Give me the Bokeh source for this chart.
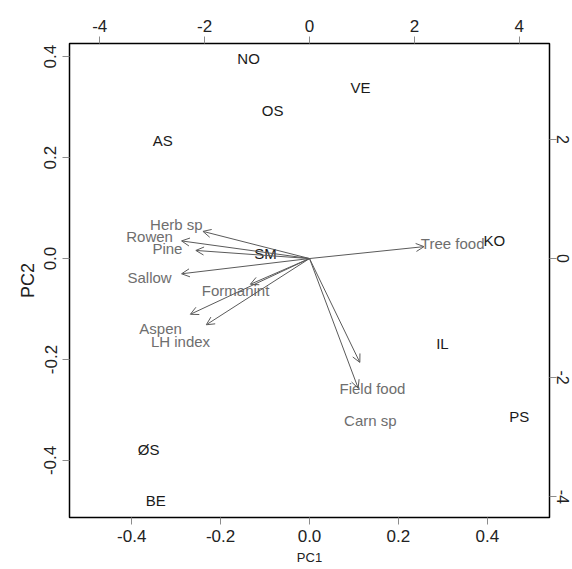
from bokeh.plotting import figure
from bokeh.models import (Range1d, LinearAxis, FixedTicker, PrintfTickFormatter,
                          ColumnDataSource, Arrow, OpenHead)
from bokeh.core.properties import value
from bokeh.embed import file_html
from bokeh.resources import INLINE

# ---- data -------------------------------------------------------------
obs_labels = ["NO", "VE", "OS", "AS", "SM", "KO", "IL", "PS", "ØS", "BE"]
obs_pc1 = [-0.137, 0.115, -0.083, -0.330, -0.099, 0.416, 0.299, 0.472, -0.362, -0.346]
obs_pc2 = [0.396, 0.339, 0.293, 0.234, 0.010, 0.036, -0.168, -0.313, -0.378, -0.479]

var_labels = ["Herb sp", "Rowen", "Pine", "Sallow", "Formanint", "Aspen",
              "LH index", "Tree food", "Field food", "Carn sp"]
var_pc1 = [-2.54, -3.05, -2.71, -3.05, -1.41, -2.84, -2.46, 2.73, 1.20, 1.16]
var_pc2 = [0.57, 0.37, 0.17, -0.32, -0.54, -1.17, -1.39, 0.25, -2.18, -2.72]

bottom_ticks = [-0.4, -0.2, 0.0, 0.2, 0.4]
left_ticks = [-0.4, -0.2, 0.0, 0.2, 0.4]
top_ticks = [-4, -2, 0, 2, 4]
right_ticks = [-4, -2, 0, 2]

x_lim = (-0.54, 0.54)
y_lim = (-0.513, 0.426)
ratio = 8.476
arrow_frac = 0.8

FONT = "Liberation Sans"

p = figure(frame_width=480, frame_height=474, output_backend="svg",
           toolbar_location=None,
           x_range=Range1d(*x_lim), y_range=Range1d(*y_lim),
           min_border_left=69, min_border_right=23, min_border_top=43,
           min_border_bottom=50)
p.extra_x_ranges = {"sec": Range1d(x_lim[0] * ratio, x_lim[1] * ratio)}
p.extra_y_ranges = {"sec": Range1d(y_lim[0] * ratio, y_lim[1] * ratio)}

p.grid.visible = False
p.background_fill_color = "white"
p.border_fill_color = "white"
p.outline_line_color = "black"
p.outline_line_width = 1.5
p.outline_line_alpha = 1.0

bottom_axis = p.below[0]
left_axis = p.left[0]
top_axis = LinearAxis(x_range_name="sec")
right_axis = LinearAxis(y_range_name="sec")
p.add_layout(top_axis, "above")
p.add_layout(right_axis, "right")

for ax in [bottom_axis, left_axis, top_axis, right_axis]:
    ax.axis_line_color = None
    ax.major_tick_in = 0
    ax.major_tick_out = 7
    ax.major_tick_line_color = "#8c8c8c"
    ax.minor_tick_line_color = None
    ax.major_label_text_font = FONT
    ax.major_label_text_font_size = "17px"
    ax.major_label_text_color = "#222222"
    ax.axis_label_text_font = FONT
    ax.axis_label_text_font_style = "normal"
    ax.axis_label_text_color = "#222222"

bottom_axis.axis_label = "PC1"
left_axis.axis_label = "PC2"

bottom_axis.ticker = FixedTicker(ticks=bottom_ticks)
bottom_axis.formatter = PrintfTickFormatter(format="%.1f")
left_axis.ticker = FixedTicker(ticks=left_ticks)
left_axis.formatter = PrintfTickFormatter(format="%.1f")
top_axis.ticker = FixedTicker(ticks=top_ticks)
top_axis.formatter = PrintfTickFormatter(format="%d")
right_axis.ticker = FixedTicker(ticks=right_ticks)
right_axis.formatter = PrintfTickFormatter(format="%d")

left_axis.major_label_orientation = "vertical"
right_axis.major_label_orientation = "vertical"

bottom_axis.major_label_standoff = 5
left_axis.major_label_standoff = 6
top_axis.major_label_standoff = 5
right_axis.major_label_standoff = 0
right_axis.major_label_text_font_size = "16px"

bottom_axis.axis_label_text_font_size = "13px"
bottom_axis.axis_label_standoff = 5
left_axis.axis_label_text_font_size = "18px"
left_axis.axis_label_standoff = 4

# ---- variable arrows (secondary scale) -------------------------------
arr_src = ColumnDataSource(dict(
    x0=[0.0] * len(var_pc1), y0=[0.0] * len(var_pc2),
    x1=[v * arrow_frac for v in var_pc1], y1=[v * arrow_frac for v in var_pc2]))
p.add_layout(Arrow(source=arr_src, x_start="x0", y_start="y0", x_end="x1", y_end="y1",
                   x_range_name="sec", y_range_name="sec",
                   line_color="#5a5a5a", line_width=1,
                   end=OpenHead(size=8, line_color="#5a5a5a", line_width=1)))

var_src = ColumnDataSource(dict(x=var_pc1, y=var_pc2, t=var_labels))
p.text(x="x", y="y", text="t", source=var_src, x_range_name="sec", y_range_name="sec",
       text_align="center", text_baseline="middle", text_font=value(FONT),
       text_font_size="15px", text_color="#6e6e6e")

# ---- observations (primary scale) ------------------------------------
obs_src = ColumnDataSource(dict(x=obs_pc1, y=obs_pc2, t=obs_labels))
p.text(x="x", y="y", text="t", source=obs_src,
       text_align="center", text_baseline="middle", text_font=value(FONT),
       text_font_size="15px", text_color="#1a1a1a")

open("out.html", "w").write(file_html(p, INLINE))
